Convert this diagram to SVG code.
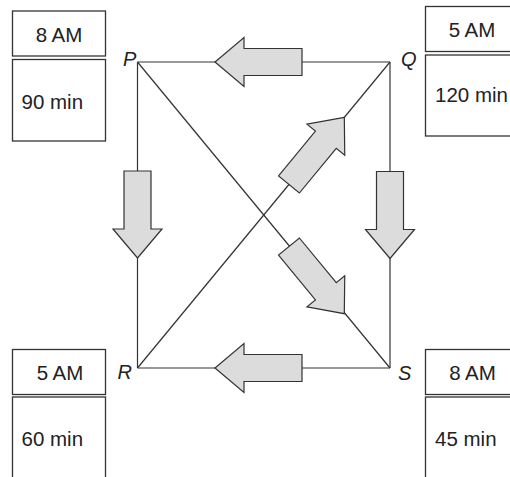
<svg xmlns="http://www.w3.org/2000/svg" width="510" height="477" viewBox="0 0 510 477">
<style>
.box{fill:#fff;stroke:#333;stroke-width:1.3}
.t{font-family:"Liberation Sans",Arial,sans-serif;font-size:20.5px;fill:#222}
.lbl{font-family:"Liberation Sans",Arial,sans-serif;font-size:20px;font-style:italic;fill:#222}
.edge{stroke:#333;stroke-width:1.2;fill:none}
.arr{fill:#dcdcdc;stroke:#333;stroke-width:1.2;stroke-linejoin:miter}
</style>
<defs>
<path id="arrow" class="arr" d="M0,0 L-29,-24.5 L-29,-13.5 L-87,-13.5 L-87,13.5 L-29,13.5 L-29,24.5 Z"/>
</defs>
<rect width="510" height="477" fill="#fff"/>
<g id="connectors">
<line class="edge" x1="137.5" y1="62" x2="390" y2="62"/>
<line class="edge" x1="137.5" y1="62" x2="137.5" y2="368"/>
<line class="edge" x1="390" y1="62" x2="390" y2="368"/>
<line class="edge" x1="137.5" y1="368" x2="390" y2="368"/>
<line class="edge" x1="137.5" y1="368" x2="390" y2="62"/>
<line class="edge" x1="137.5" y1="62" x2="390" y2="368"/>
<use href="#arrow" transform="translate(215,62) rotate(180)"/>
<use href="#arrow" transform="translate(137.5,258) rotate(90)"/>
<use href="#arrow" transform="translate(390,258.5) rotate(90)"/>
<use href="#arrow" transform="translate(215,368) rotate(180)"/>
<use href="#arrow" transform="translate(344.3,117.3) rotate(-50.5)"/>
<use href="#arrow" transform="translate(344.3,313.7) rotate(50.5)"/>
</g>
<g id="node-P">
<text class="lbl" x="123" y="66">P</text>
<rect class="box" x="12.5" y="11" width="93" height="45"/>
<text class="t" x="59" y="41.5" text-anchor="middle">8 AM</text>
<rect class="box" x="12.5" y="59.5" width="93" height="81.5"/>
<text class="t" x="21.5" y="109">90 min</text>
</g>
<g id="node-Q">
<text class="lbl" x="401" y="66">Q</text>
<rect class="box" x="425.5" y="6.5" width="93" height="45"/>
<text class="t" x="472" y="37" text-anchor="middle">5 AM</text>
<rect class="box" x="425.5" y="55" width="93" height="81"/>
<text class="t" x="435" y="102">120 min</text>
</g>
<g id="node-R">
<text class="lbl" x="117.5" y="379">R</text>
<rect class="box" x="12.5" y="349.5" width="93" height="45"/>
<text class="t" x="60" y="380" text-anchor="middle">5 AM</text>
<rect class="box" x="12.5" y="397" width="93" height="90"/>
<text class="t" x="21.5" y="446">60 min</text>
</g>
<g id="node-S">
<text class="lbl" x="398" y="380">S</text>
<rect class="box" x="425.5" y="349.5" width="93" height="45"/>
<text class="t" x="472.5" y="380" text-anchor="middle">8 AM</text>
<rect class="box" x="425.5" y="397" width="93" height="90"/>
<text class="t" x="435" y="446">45 min</text>
</g>
</svg>
